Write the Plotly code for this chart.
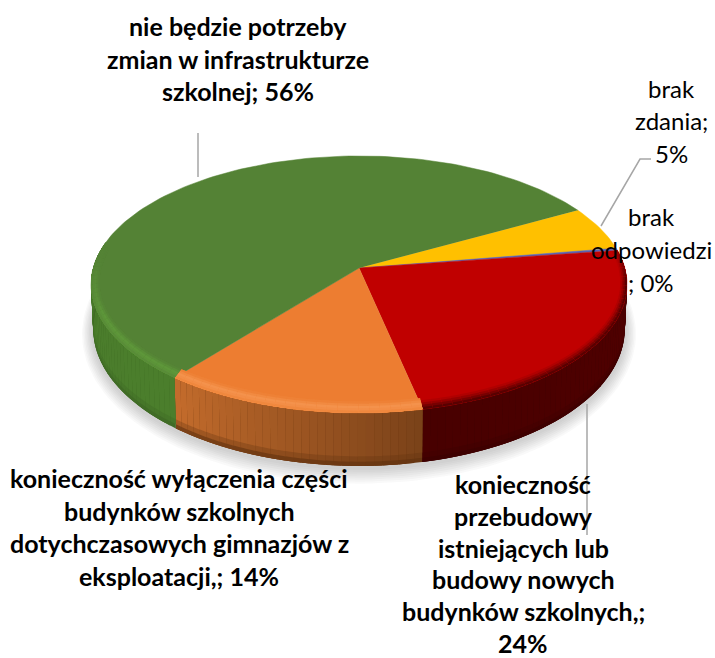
import numpy as np
import plotly.graph_objects as go

# ---- data (clockwise from the green/yellow boundary) ----
categories = ["brak zdania", "brak odpowiedzi", "przebudowa lub budowa", "wyłączenie budynków", "nie będzie potrzeby"]
values = [5.5, 0.3, 23.9, 14.1, 56.2]
colors = ["#FFC000", "#5B62B0", "#C00000", "#ED7D31", "#548235"]

label_top = ["nie będzie potrzeby", "zmian w infrastrukturze", "szkolnej; 56%"]
label_left = ["konieczność wyłączenia części", "budynków szkolnych", "dotychczasowych gimnazjów z", "eksploatacji,; 14%"]
label_right = ["konieczność", "przebudowy", "istniejących lub", "budowy nowych", "budynków szkolnych,;", "24%"]
label_zdania = ["brak", "zdania;", "5%"]
label_odp = ["brak", "odpowiedzi", "; 0%"]

# ---- projection of the pie disc ----
W, H = 715, 658
CX, CY = 359.0, 268.0
A, B, K = 126.4, 265.8, 0.128
START = 61.0


def proj(theta, ru=1.0, rv=1.0, depth=0.0):
    t = np.radians(theta)
    u = ru * np.sin(t)
    v = -rv * np.cos(t)
    d = 1 - K * v
    x = CX + B * u / d
    y = CY + A * v / d
    dz = depth * (43 + 10 * v)
    x = CX + (x - CX) * (1 - 0.008 * depth)
    return x, y + dz


def hexrgb(c):
    return np.array([int(c[i:i + 2], 16) for i in (1, 3, 5)], float)


def mix(a, b, f):
    r = hexrgb(a) * (1 - f) + hexrgb(b) * f
    return "rgb(%d,%d,%d)" % tuple(r.round())


def tohex(r):
    return "#%02x%02x%02x" % tuple(int(round(v)) for v in r)


fig = go.Figure()


def poly(xs, ys, color, lw=0.0):
    fig.add_trace(go.Scatter(
        x=list(xs), y=list(ys), mode="lines", fill="toself", fillcolor=color,
        line=dict(color=color, width=lw), hoverinfo="skip", showlegend=False))


edges = START + np.cumsum([0] + values) * 3.6
spans = list(zip(edges[:-1], edges[1:]))

# soft shadow
ring = np.linspace(0, 360, 181)
for i in range(8, 0, -1):
    x, y = proj(ring, 1 + 0.005 * i, 1 + 0.011 * i, 1.0)
    poly(x, y + 2, "rgba(70,70,70,0.03)", 0)

# side wall strips: (colour at start angle, colour at end angle, bottom-edge colour)
# painted with overlap so neighbouring strips leave no seams
side_style = {
    2: ("#520000", "#480000", "#3A0000"),
    3: ("#7A4219", "#C46C2C", "#5E300E"),
    4: ("#4B7E2C", "#4A7C2B", "#3C6523"),
}
bands = [(1.0, 0.7), (0.92, 0.3), (0.82, 0.0)]
OVERLAP = 3.0
for idx, (s, e) in enumerate(spans):
    a0, a1 = max(s, 78), min(e, 282)
    if idx not in side_style or a1 <= a0:
        continue
    left, right, low = side_style[idx]
    n = max(2, int((a1 - a0) / 1.5))
    th = np.linspace(a0, a1, n + 1)
    for j in range(n):
        f = (j + 0.5) / n
        base_hex = tohex(hexrgb(left) * (1 - f) + hexrgb(right) * f)
        seg = np.linspace(th[j], min(th[j + 1] + OVERLAP, a1), 4)
        for z1, dark in bands:
            x0, y0 = proj(seg, depth=0)
            x1, y1 = proj(seg[::-1], depth=z1)
            poly(np.r_[x0, x1], np.r_[y0, y1], mix(base_hex, low, dark))

# top-face slices
for (s, e), col in zip(spans, colors):
    n = max(2, int((e - s) / 1.5))
    x, y = proj(np.linspace(s, e, n + 1))
    poly(np.r_[CX, x], np.r_[CY, y], col, 0.5)

# bevel along the front rim
bevel_tint = {2: "#580000", 3: "#F4924C", 4: "#5E973A"}
layers = np.linspace(0, 1, 6)
strength = {2: [1.0, 0.7, 0.4, 0.15, 0.0],
            3: [0.5, 0.8, 1.0, 0.6, 0.2],
            4: [0.5, 0.8, 1.0, 0.6, 0.2]}
for idx, (s, e) in enumerate(spans):
    if idx not in bevel_tint:
        continue
    n = max(2, int((e - s) / 2))
    th = np.linspace(s, e, n + 1)
    for j in range(n):
        mid = 0.5 * (th[j] + th[j + 1])
        cm = np.cos(np.radians(mid))
        w = float(np.clip((0.3 - cm) / 0.4, 0, 1)) if idx == 2 else float(np.clip((0.12 - cm) / 0.5, 0, 1))
        if w <= 0:
            continue
        seg = np.linspace(th[j], min(th[j + 1] + OVERLAP, e), 4)
        for q in range(4, -1, -1):
            c = mix(colors[idx], bevel_tint[idx], w * strength[idx][q])
            x0, y0 = proj(seg)
            x1, y1 = proj(seg[::-1], 1 - 0.03 * layers[q + 1], 1 - 0.07 * layers[q + 1])
            poly(np.r_[x0, x1], np.r_[y0, y1], c)

# leader lines
for xs, ys in [([198, 198], [133, 177]),
               ([601, 640, 651], [226, 159, 159]),
               ([587, 587], [404, 535])]:
    fig.add_trace(go.Scatter(x=xs, y=ys, mode="lines", line=dict(color="#A6A6A6", width=1.5),
                             hoverinfo="skip", showlegend=False))


# labels
def add_label(lines, cx, y0, step, bold, size):
    for i, t in enumerate(lines):
        fig.add_annotation(x=cx, y=y0 + i * step, text=("<b>%s</b>" % t) if bold else t,
                           showarrow=False, xanchor="center", yanchor="middle",
                           font=dict(family="Lato", size=size, color="#000000"))


add_label(label_top, 238, 26, 32.5, True, 25)
add_label(label_left, 179, 478, 32.7, True, 25)
add_label(label_right, 523, 484, 31.8, True, 25)
add_label(label_zdania, 671, 88, 32.5, False, 24)
add_label(label_odp, 651, 216, 33, False, 24)

fig.update_layout(
    width=W, height=H, margin=dict(l=0, r=0, t=0, b=0),
    paper_bgcolor="white", plot_bgcolor="white", showlegend=False,
    xaxis=dict(range=[0, W], visible=False, fixedrange=True),
    yaxis=dict(range=[H, 0], visible=False, fixedrange=True),
)
fig.write_html("out.html", config={"displayModeBar": False},
               post_script="document.body.style.margin='0';document.body.style.overflow='hidden';")
